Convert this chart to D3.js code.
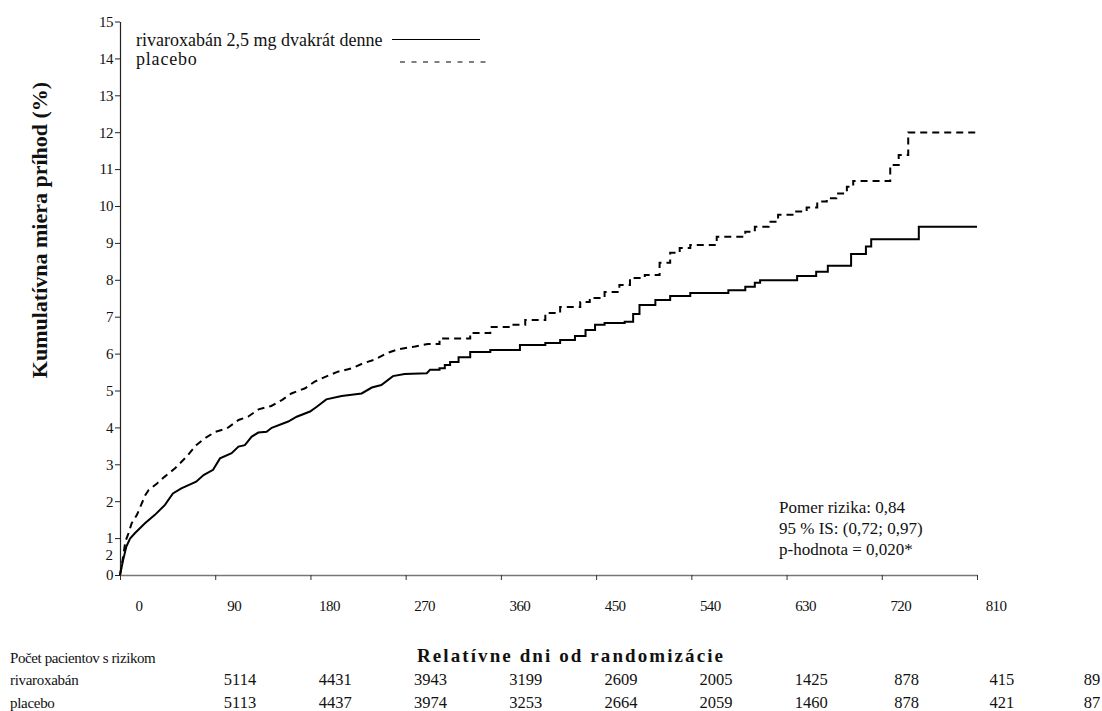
<!DOCTYPE html>
<html>
<head>
<meta charset="utf-8">
<script src="https://cdn.jsdelivr.net/npm/d3@7"></script>
<style>
  body { margin: 0; background: #fff; }
  svg { display: block; }
</style>
</head>
<body>
<div id="chart"></div>
<script>
const width = 1102;
const height = 711;

// Kaplan-Meier curves: [day, cumulative event rate %]
const rivaroxaban = [
  [0, 0], [3, 0.41], [6, 0.77], [9.5, 0.99], [14, 1.13], [23.6, 1.40], [33, 1.63],
  [42.5, 1.90], [50, 2.21], [58, 2.35], [72, 2.53], [79, 2.71], [88, 2.85],
  [94.5, 3.16], [105.5, 3.30], [112, 3.48], [118, 3.52], [124.5, 3.75], [130.7, 3.86],
  [138.6, 3.88], [143.4, 3.99], [159, 4.16], [167, 4.29], [179.6, 4.43], [186, 4.56],
  [195, 4.76], [209.5, 4.85], [228.4, 4.92], [238, 5.08], [247, 5.15], [258, 5.39],
  [269, 5.45], [290, 5.47], [293, 5.56], [302, 5.60], [307, 5.69], [312, 5.77],
  [320, 5.90], [331, 6.04], [350, 6.10], [378, 6.23], [402, 6.29], [416, 6.37],
  [430, 6.48], [440, 6.64], [449, 6.78], [458, 6.83], [477, 6.86], [485, 7.07],
  [491, 7.32], [506, 7.45], [520, 7.56], [539, 7.64], [575, 7.72], [591, 7.81],
  [600, 7.92], [605, 7.99], [640, 8.10], [658, 8.22], [669, 8.38], [691, 8.70],
  [705, 8.90], [710, 9.10], [755, 9.44], [810, 9.44]
];

const placebo = [
  [0, 0], [3, 0.50], [5, 0.90], [8, 1.13], [11, 1.40], [16, 1.63], [20, 1.90],
  [24, 2.17], [27, 2.30], [35, 2.48], [42, 2.66], [52, 2.89], [63, 3.21], [72, 3.52],
  [80, 3.70], [90, 3.88], [101, 3.97], [112, 4.20], [121, 4.29], [131, 4.49],
  [143, 4.58], [153, 4.74], [162, 4.92], [175, 5.06], [184, 5.24], [194, 5.37],
  [206, 5.51], [219, 5.60], [230, 5.74], [241, 5.84], [252, 6.01], [263, 6.12],
  [279, 6.19], [291, 6.26], [302, 6.41], [331, 6.56], [350, 6.72], [369, 6.78],
  [383, 6.91], [402, 7.10], [416, 7.26], [435, 7.40], [444, 7.51], [458, 7.67],
  [472, 7.86], [482, 8.05], [496, 8.13], [510, 8.46], [520, 8.73], [529, 8.86],
  [539, 8.94], [564, 9.17], [591, 9.30], [600, 9.44], [613, 9.57], [622, 9.76],
  [638, 9.85], [649, 9.96], [659, 10.12], [668, 10.21], [677, 10.34], [687, 10.52],
  [693, 10.68], [728, 11.11], [736, 11.38], [745, 11.99], [810, 11.99]
];

const dayTicks = [0, 90, 180, 270, 360, 450, 540, 630, 720, 810];
const rateTicks = d3.range(0, 16);

// patients at risk
const riskRivaroxaban = [5114, 4431, 3943, 3199, 2609, 2005, 1425, 878, 415, 89];
const riskPlacebo = [5113, 4437, 3974, 3253, 2664, 2059, 1460, 878, 421, 87];

const statsLines = ["Pomer rizika: 0,84", "95 % IS: (0,72; 0,97)", "p-hodnota = 0,020*"];

const serif = "'Liberation Serif', 'Times New Roman', serif";

// early part has many tiny steps, looks like a jagged line; later steps are visible
const stepFrom = 300;

const svg = d3.select("#chart").append("svg")
  .attr("width", width)
  .attr("height", height)
  .attr("font-family", serif);

svg.append("rect").attr("width", width).attr("height", height).attr("fill", "#fff");

const x = d3.scaleLinear().domain([0, 810]).range([120, 977]);
const y = d3.scaleLinear().domain([0, 15]).range([575, 21.5]);

// y axis
const yAxis = svg.append("g")
  .attr("transform", `translate(${x(0)},0)`)
  .call(d3.axisLeft(y).tickValues(rateTicks).tickSize(5).tickPadding(2).tickSizeOuter(0));
yAxis.select(".domain").attr("stroke", "#222").attr("stroke-width", 1.2);
yAxis.selectAll(".tick line").attr("stroke", "#222");
yAxis.selectAll(".tick text")
  .attr("font-family", serif)
  .attr("font-size", 15)
  .attr("letter-spacing", -0.5)
  .attr("fill", "#111");

// stray label next to the y axis
svg.append("text")
  .attr("x", 113)
  .attr("y", y(0) - 20)
  .attr("dy", "0.32em")
  .attr("text-anchor", "end")
  .attr("font-size", 15)
  .attr("fill", "#111")
  .text("2");

// x axis
const xAxis = svg.append("g")
  .attr("transform", `translate(0,${y(0)})`)
  .call(d3.axisBottom(x).tickValues(dayTicks).tickSize(5).tickSizeOuter(0).tickFormat(""));
xAxis.select(".domain").attr("stroke", "#777").attr("stroke-width", 1.5);
xAxis.selectAll(".tick line").attr("stroke", "#333");

svg.append("g")
  .selectAll("text")
  .data(dayTicks)
  .join("text")
  .attr("x", d => x(d) + 19)
  .attr("y", 611)
  .attr("text-anchor", "middle")
  .attr("font-size", 15)
  .attr("letter-spacing", -0.6)
  .attr("fill", "#111")
  .text(d => d);

// curves
function pathPoints(data) {
  const pts = [];
  data.forEach((d, i) => {
    if (i > 0 && d[0] > stepFrom) pts.push([d[0], data[i - 1][1]]);
    pts.push(d);
  });
  return pts;
}

const line = d3.line()
  .x(d => x(d[0]))
  .y(d => y(d[1]));

svg.append("path")
  .datum(pathPoints(placebo))
  .attr("fill", "none")
  .attr("stroke", "#000")
  .attr("stroke-width", 2)
  .attr("stroke-dasharray", "7,5")
  .attr("d", line);

svg.append("path")
  .datum(pathPoints(rivaroxaban))
  .attr("fill", "none")
  .attr("stroke", "#000")
  .attr("stroke-width", 2)
  .attr("d", line);

// legend
svg.append("text")
  .attr("x", 136).attr("y", 46)
  .attr("font-size", 18)
  .attr("fill", "#111")
  .text("rivaroxabán 2,5 mg dvakrát denne");
svg.append("line")
  .attr("x1", 392).attr("x2", 480)
  .attr("y1", 39.5).attr("y2", 39.5)
  .attr("stroke", "#000").attr("stroke-width", 1.2);

svg.append("text")
  .attr("x", 136).attr("y", 65)
  .attr("font-size", 18)
  .attr("letter-spacing", 0.8)
  .attr("fill", "#111")
  .text("placebo");
svg.append("line")
  .attr("x1", 400).attr("x2", 488)
  .attr("y1", 62).attr("y2", 62)
  .attr("stroke", "#000").attr("stroke-width", 1.2)
  .attr("stroke-dasharray", "5,6.5");

// hazard ratio box
svg.append("g")
  .selectAll("text")
  .data(statsLines)
  .join("text")
  .attr("x", 779)
  .attr("y", (d, i) => 513 + i * 21)
  .attr("font-size", 17)
  .attr("fill", "#111")
  .text(d => d);

// axis titles
svg.append("text")
  .attr("transform", `translate(47,230) rotate(-90)`)
  .attr("text-anchor", "middle")
  .attr("font-size", 22)
  .attr("font-weight", "bold")
  .attr("fill", "#111")
  .text("Kumulatívna miera príhod (%)");

svg.append("text")
  .attr("x", 417).attr("y", 662)
  .attr("font-size", 19)
  .attr("font-weight", "bold")
  .attr("textLength", 306)
  .attr("lengthAdjust", "spacing")
  .attr("fill", "#111")
  .text("Relatívne dni od randomizácie");

// number at risk table
svg.append("text")
  .attr("x", 10).attr("y", 663)
  .attr("font-size", 15)
  .attr("letter-spacing", -0.4)
  .attr("fill", "#111")
  .text("Počet pacientov s rizikom");

const rows = [
  { label: "rivaroxabán", values: riskRivaroxaban, y: 685 },
  { label: "placebo", values: riskPlacebo, y: 708 }
];

rows.forEach(r => {
  svg.append("text")
    .attr("x", 10).attr("y", r.y)
    .attr("font-size", 15)
    .attr("letter-spacing", -0.3)
    .attr("fill", "#111")
    .text(r.label);

  svg.append("g")
    .selectAll("text")
    .data(r.values)
    .join("text")
    .attr("x", (d, i) => Math.min(x(dayTicks[i]) + 120, width - 10))
    .attr("y", r.y)
    .attr("text-anchor", "middle")
    .attr("font-size", 16.5)
    .attr("fill", "#111")
    .text(d => d);
});
</script>
</body>
</html>
